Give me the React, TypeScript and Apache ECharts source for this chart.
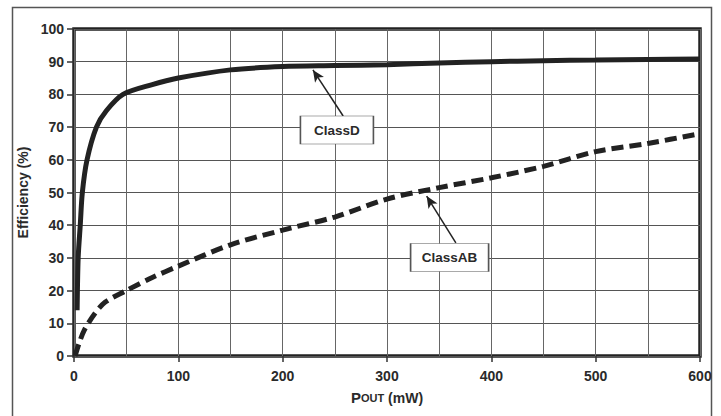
import React, { useEffect, useRef } from "react";
import * as echarts from "echarts";

// ---- data ----
const classD: [number, number][] = [
  [3, 14], [4, 30], [6, 40], [8, 50], [12.5, 60], [21.5, 70], [31, 75], [47, 80],
  [75, 83], [100, 85], [150, 87.5], [200, 88.5], [250, 88.8], [300, 89.1],
  [350, 89.6], [400, 90], [450, 90.3], [500, 90.5], [550, 90.7], [600, 90.8],
];
const classAB: [number, number][] = [
  [1, 0], [5, 4], [10, 8], [20, 13], [30, 16.5], [50, 20], [75, 24], [100, 27.5],
  [150, 34], [200, 38.5], [250, 42.5], [300, 48], [350, 51.5], [400, 54.5],
  [450, 58], [500, 62.5], [550, 65], [600, 68],
];
const xTicks = [0, 100, 200, 300, 400, 500, 600];
const yTicks = [0, 10, 20, 30, 40, 50, 60, 70, 80, 90, 100];

// annotations (data coordinates)
const classDArrow = { from: [258, 73.4], to: [229, 87.5] };
const classDBox = { at: [252, 69.1], text: "ClassD" };
const classABArrow = { from: [366, 34.6], to: [338, 48.9] };
const classABBox = { at: [360, 30.1], text: "ClassAB" };

const FONT = "'Liberation Sans', Arial, Helvetica, sans-serif";
const TXT = "#2a2a2a";

export default function App() {
  const ref = useRef<HTMLDivElement>(null);
  useEffect(() => {
    if (!ref.current) return;
    const chart = echarts.init(ref.current, undefined, { renderer: "svg" });
    const box = (b: { at: number[]; text: string }, w: number) => ({
      symbol: "rect",
      symbolSize: [w, 28],
      silent: true,
      itemStyle: { color: "#fff", borderColor: "#555", borderWidth: 1 },
      label: {
        show: true,
        position: "inside",
        formatter: b.text,
        color: TXT,
        fontWeight: "bold",
        fontSize: 13.5,
        fontFamily: FONT,
      },
      data: [{ coord: b.at }],
    });
    const arrow = (a: { from: number[]; to: number[] }) => ({
      silent: true,
      symbol: ["none", "arrow"],
      symbolSize: [8, 12],
      label: { show: false },
      lineStyle: { color: "#222", width: 1.5, type: "solid" },
      data: [[{ coord: a.from }, { coord: a.to }]],
    });
    chart.setOption({
      animation: false,
      backgroundColor: "#fff",
      textStyle: { fontFamily: FONT },
      graphic: [
        {
          type: "rect",
          shape: { x: 12.5, y: 7.5, width: 699, height: 430 },
          style: { fill: "none", stroke: "#555", lineWidth: 1.5 },
          silent: true,
        },
      ],
      grid: {
        left: 74,
        top: 29,
        right: 21,
        bottom: 60,
        show: true,
        borderColor: "#222",
        borderWidth: 3.5,
        backgroundColor: "transparent",
      },
      xAxis: {
        type: "value",
        min: 0,
        max: 600,
        interval: 100,
        name: "{p|P}{s|OUT} (mW)",
        nameLocation: "middle",
        nameGap: 34,
        nameTextStyle: {
          rich: {
            p: { fontSize: 15, fontWeight: "bold", color: TXT, fontFamily: FONT },
            s: { fontSize: 11, fontWeight: "bold", color: TXT, fontFamily: FONT },
          },
          fontSize: 14,
          fontWeight: "bold",
          color: TXT,
        },
        axisLine: { show: false },
        axisTick: { show: true, length: 6, lineStyle: { color: "#333", width: 1.5 } },
        axisLabel: {
          margin: 13,
          color: TXT,
          fontSize: 14,
          fontWeight: "bold",
          formatter: (v: number) => (xTicks.includes(v) ? String(v) : ""),
        },
        splitLine: { show: true, lineStyle: { color: "#666", width: 1 } },
        minorTick: { show: false, splitNumber: 2 },
        minorSplitLine: { show: true, lineStyle: { color: "#666", width: 1 } },
      },
      yAxis: {
        type: "value",
        min: 0,
        max: 100,
        interval: 10,
        name: "Efficiency (%)",
        nameLocation: "middle",
        nameGap: 42,
        nameTextStyle: { fontSize: 14, fontWeight: "bold", color: TXT },
        axisLine: { show: false },
        axisTick: { show: true, length: 7, lineStyle: { color: "#333", width: 1.5 } },
        axisLabel: {
          margin: 10,
          color: TXT,
          fontSize: 14,
          fontWeight: "bold",
          formatter: (v: number) => (yTicks.includes(v) ? String(v) : ""),
        },
        splitLine: { show: true, lineStyle: { color: "#555", width: 1 } },
      },
      series: [
        {
          name: "ClassD",
          type: "line",
          data: classD,
          smooth: 0.3,
          showSymbol: false,
          lineStyle: { color: "#222", width: 5 },
          z: 3,
          markLine: arrow(classDArrow),
          markPoint: box(classDBox, 73),
        },
        {
          name: "ClassAB",
          type: "line",
          data: classAB,
          smooth: 0.3,
          showSymbol: false,
          lineStyle: { color: "#222", width: 5, type: [12, 6], cap: "butt" },
          z: 3,
          markLine: arrow(classABArrow),
          markPoint: box(classABBox, 78),
        },
      ],
    });
    return () => chart.dispose();
  }, []);
  return (
    <div
      ref={ref}
      style={{ position: "fixed", left: 0, top: 0, width: 721, height: 416 }}
    />
  );
}
